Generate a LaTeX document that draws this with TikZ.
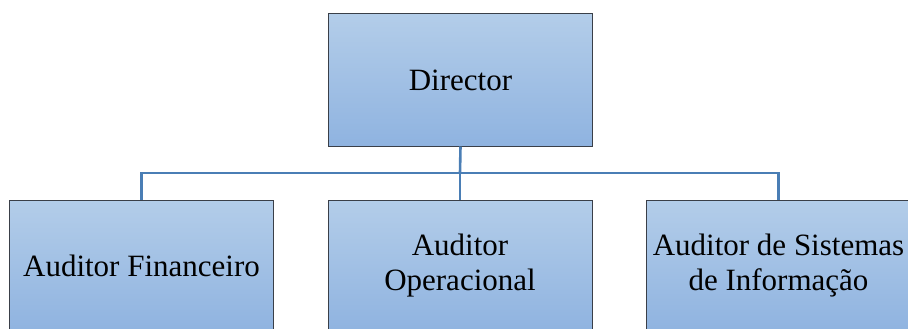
\documentclass[tikz,border=0pt]{standalone}
\usepackage{fontspec}
\setmainfont{Liberation Serif}
\definecolor{boxtop}{HTML}{B3CDE9}
\definecolor{boxbot}{HTML}{8FB3E0}
\definecolor{boxline}{HTML}{3A3F48}
\definecolor{wire}{HTML}{4A7EB5}
\tikzset{
  orgbox/.style={draw=boxline, line width=1pt, top color=boxtop, bottom color=boxbot,
    minimum width=264pt, minimum height=132pt, inner sep=0pt, align=center,
    font=\fontsize{31}{35}\selectfont},
  wireline/.style={draw=wire, line width=2.6pt}
}
\begin{document}
\begin{tikzpicture}[x=1pt,y=-1pt]
\useasboundingbox (0,0) rectangle (908,329);
\clip (0,0) rectangle (908,329);
\node[orgbox] (dir) at (460.5,80) {Director};
\node[orgbox] (fin) at (141.5,266) {Auditor Financeiro};
\node[orgbox] (ope) at (460,266) {Auditor\\Operacional};
\node[orgbox] (sis) at (778.5,266) {Auditor de Sistemas\\de Informação};
\coordinate (bus) at (460,173);
\draw[wireline] (dir.south) -- (bus);
\draw[wireline] (fin.north) |- (bus) -| (sis.north);
\draw[wireline] (bus) -- (ope.north);
\end{tikzpicture}
\end{document}
